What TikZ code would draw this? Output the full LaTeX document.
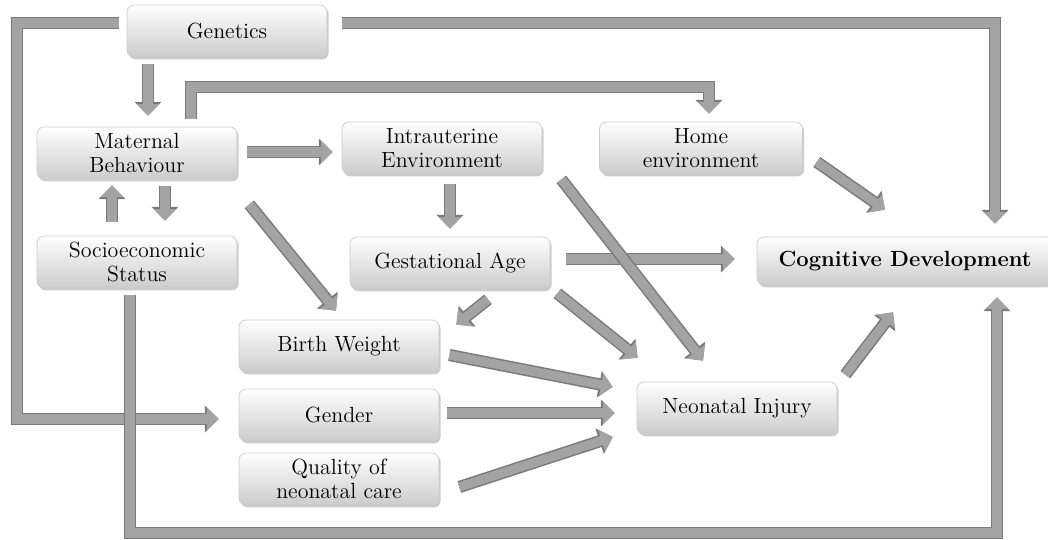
\documentclass[tikz,border=0pt]{standalone}
\usetikzlibrary{arrows.meta,calc,shadows}
\begin{document}
\begin{tikzpicture}[x=0.02cm,y=-0.02cm,
  box/.style={rounded corners=4pt, top color=white, bottom color=black!20,
    draw=black!20, line width=0.4pt,
    drop shadow={shadow xshift=1pt, shadow yshift=-1.4pt, opacity=0.4},
    align=center, inner sep=0pt, minimum width=4.0cm, minimum height=1.04cm,
    font=\fontsize{12.5}{14}\selectfont},
  blk/.style={draw=black!36, line width=5.2pt, line join=miter,
    -{Triangle[width=12.6pt,length=6.6pt]},
    preaction={draw=black!52, line width=6.9pt, line join=miter,
      -{Triangle[width=14.8pt,length=7.8pt]}}}]
\useasboundingbox (0,0) rectangle (1048,540);

% nodes
\node[box] (gen) at (227,31) {Genetics};
\node[box] (mat) at (137,153) {Maternal\\Behaviour};
\node[box] (intra) at (442,148) {Intrauterine\\Environment};
\node[box,minimum width=4.06cm] (home) at (701,148) {Home\\environment};
\node[box] (socio) at (137,262) {Socioeconomic\\Status};
\node[box] (gest) at (450,263) {Gestational Age};
\node[box,minimum width=5.92cm,minimum height=0.96cm,font=\fontsize{12.5}{14}\selectfont\bfseries] (cog) at (905,261) {Cognitive Development};
\node[box] (bw) at (339,346) {Birth Weight};
\node[box] (gender) at (339,415) {Gender};
\node[box] (qual) at (339,479) {Quality of\\neonatal care};
\node[box] (neo) at (737,408) {Neonatal Injury};

% bend coordinates
\coordinate (b1) at (191,87);
\coordinate (b2) at (709,87);
\coordinate (c1) at (995,23);
\coordinate (c2) at (17,23);
\coordinate (c3) at (17,419);
\coordinate (c4) at (130,533);
\coordinate (c5) at (997,533);

% connectors
\draw[blk] ($(gen.south)+(-79,7)$) -- ($(mat.north)+(11,-11)$);
\draw[blk] ($(mat.east)+(10,-1)$) -- ($(intra.west)+(-9,4)$);
\draw[blk] ($(mat.north)+(54,-8)$) -- (b1) -- (b2) -- ($(home.north)+(8,-8)$);
\draw[blk] ($(gen.east)+(15,-8)$) -- (c1) -- ($(cog.north)+(90,-13)$);
\draw[blk] ($(gen.west)+(-8,-8)$) -- (c2) -- (c3) -- ($(gender.west)+(-20,4)$);
\draw[blk] ($(socio.south)+(-7,7)$) -- (c4) -- (c5) -- ($(cog.south)+(92,12)$);
\draw[blk] ($(socio.north)+(-25,-14)$) -- ($(mat.south)+(-25,6)$);
\draw[blk] ($(mat.south)+(28,7)$) -- ($(socio.north)+(28,-15)$);
\draw[blk] ($(mat.south east)+(12,25)$) -- ($(bw.north)+(-3,-9)$);
\draw[blk] ($(intra.south)+(8,10)$) -- ($(gest.north)+(0,-8)$);
\draw[blk] ($(home.east)+(14,14)$) -- ($(cog.north)+(-20,-27)$);
\draw[blk] ($(gest.east)+(16,-4)$) -- ($(cog.west)+(-22,-2)$);
\draw[blk] ($(intra.south east)+(19,5)$) -- ($(neo.north)+(-34,-21)$);
\draw[blk] ($(gest.south)+(38,10)$) -- ($(bw.north east)+(17,5)$);
\draw[blk] ($(gest.south east)+(7,4)$) -- ($(neo.north west)+(1,-24)$);
\draw[blk] ($(neo.north east)+(8,-7)$) -- ($(cog.south)+(-12,27)$);
\draw[blk] ($(bw.east)+(10,9)$) -- ($(neo.west)+(-24,-21)$);
\draw[blk] ($(gender.east)+(8,-2)$) -- ($(neo.west)+(-22,5)$);
\draw[blk] ($(qual.east)+(20,8)$) -- ($(neo.west)+(-24,29)$);
\end{tikzpicture}
\end{document}
